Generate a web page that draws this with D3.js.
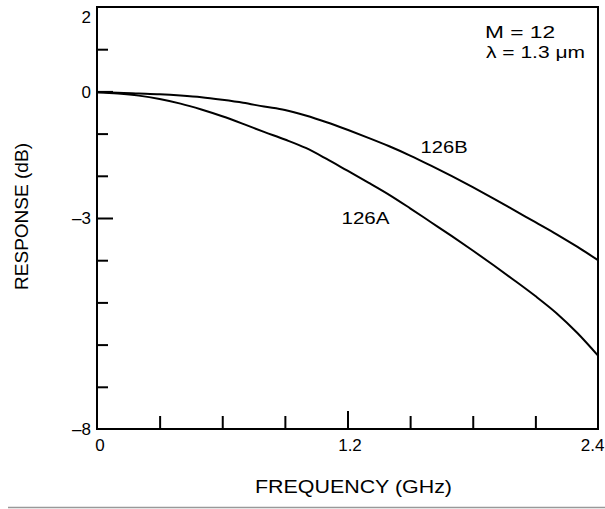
<!DOCTYPE html>
<html>
<head>
<meta charset="utf-8">
<script src="https://cdn.jsdelivr.net/npm/d3@7"></script>
<style>
  html, body { margin: 0; padding: 0; background: #fff; }
  svg { display: block; }
  text { font-family: "Liberation Sans", "DejaVu Sans", sans-serif; fill: #000; }
  .tick text { font-size: 17px; }
</style>
</head>
<body>
<svg id="chart" width="605" height="509"></svg>
<script>
// ---- data ----
const frequencies = [0, 0.1, 0.2, 0.3, 0.4, 0.5, 0.6, 0.7, 0.8, 0.9, 1.0, 1.1, 1.2,
                     1.3, 1.4, 1.5, 1.6, 1.7, 1.8, 1.9, 2.0, 2.1, 2.2, 2.3, 2.4];
const response126B = [-0.02, -0.03, -0.05, -0.07, -0.10, -0.14, -0.20, -0.27, -0.36, -0.44, -0.57, -0.73, -0.91,
                      -1.10, -1.30, -1.52, -1.76, -2.01, -2.27, -2.54, -2.82, -3.10, -3.38, -3.68, -4.00];
const response126A = [-0.02, -0.05, -0.10, -0.18, -0.29, -0.43, -0.59, -0.77, -0.96, -1.14, -1.34, -1.60, -1.88,
                      -2.16, -2.45, -2.77, -3.10, -3.43, -3.77, -4.12, -4.48, -4.85, -5.25, -5.72, -6.26];
const seriesNames = ["126A", "126B"];
const yTickLabels = [2, 0, -3, -8];
const yMinorTicks = [1, -1, -2, -4, -5, -6, -7];
const xTickLabels = [0, 1.2, 2.4];
const xMinorTicks = [0.3, 0.6, 0.9, 1.5, 1.8, 2.1];
const annotations = ["M = 12", "\u03BB = 1.3 \u03BCm"];
const xTitle = "FREQUENCY (GHz)";
const yTitle = "RESPONSE (dB)";

// ---- layout ----
const svg = d3.select("#chart");
const x = d3.scaleLinear().domain([0, 2.4]).range([97, 598]);
const y = d3.scaleLinear().domain([-8, 2]).range([429, 7]);

// frame
svg.append("rect")
  .attr("x", x(0)).attr("y", y(2))
  .attr("width", x(2.4) - x(0)).attr("height", y(-8) - y(2))
  .attr("fill", "none").attr("stroke", "#000").attr("stroke-width", 2);

// y axis: minor ticks
const yMinor = svg.append("g").attr("transform", `translate(${x(0)},0)`)
  .call(d3.axisLeft(y).tickValues(yMinorTicks).tickSizeInner(-11).tickSizeOuter(0).tickFormat(""));
// y axis: labelled ticks
const yMajor = svg.append("g").attr("transform", `translate(${x(0)},0)`)
  .call(d3.axisLeft(y).tickValues(yTickLabels).tickSizeInner(-16).tickSizeOuter(0).tickPadding(6)
        .tickFormat(d => d < 0 ? "\u2013" + Math.abs(d) : String(d)));
[yMinor, yMajor].forEach(g => {
  g.select(".domain").remove();
  g.attr("font-size", null).attr("font-family", null);
  g.selectAll(".tick line").attr("stroke", "#000").attr("stroke-width", 2);
});
yMajor.selectAll(".tick line").attr("x2", d => (d === -3 || d === 0) ? 16 : 0);
yMajor.selectAll(".tick text")
  .attr("dy", d => d === 2 ? "0.9em" : "0.33em");

// x axis: minor ticks
const xMinor = svg.append("g").attr("transform", `translate(0,${y(-8)})`)
  .call(d3.axisBottom(x).tickValues(xMinorTicks).tickSizeInner(-13).tickSizeOuter(0).tickFormat(""));
// x axis: labelled ticks
const xMajor = svg.append("g").attr("transform", `translate(0,${y(-8)})`)
  .call(d3.axisBottom(x).tickValues(xTickLabels).tickSizeInner(-18).tickSizeOuter(0).tickPadding(10)
        .tickFormat(d => String(d)));
[xMinor, xMajor].forEach(g => {
  g.select(".domain").remove();
  g.attr("font-size", null).attr("font-family", null);
  g.selectAll(".tick line").attr("stroke", "#000").attr("stroke-width", 2);
});
xMajor.selectAll(".tick line").attr("y2", d => d === 1.2 ? -18 : 0);
xMajor.selectAll(".tick text")
  .attr("text-anchor", d => d === 2.4 ? "end" : "middle")
  .attr("x", d => d === 2.4 ? 6 : (d === 0 ? 2.5 : 2));

// curves
const line = d3.line().x(d => x(d[0])).y(d => y(d[1])).curve(d3.curveMonotoneX);
const seriesData = [response126A, response126B];
seriesData.forEach(vals => {
  svg.append("path")
    .datum(frequencies.map((f, i) => [f, vals[i]]))
    .attr("fill", "none").attr("stroke", "#000").attr("stroke-width", 2)
    .attr("d", line);
});

// curve labels
svg.append("text").attr("x", x(1.2) - 6).attr("y", y(-3.15)).attr("font-size", 17)
  .attr("textLength", 48).attr("lengthAdjust", "spacingAndGlyphs").text(seriesNames[0]);
svg.append("text").attr("x", x(1.55)).attr("y", y(-1.45)).attr("font-size", 17)
  .attr("textLength", 47).attr("lengthAdjust", "spacingAndGlyphs").text(seriesNames[1]);

// annotations
svg.append("text").attr("x", 485).attr("y", 38).attr("font-size", 16)
  .attr("textLength", 70).attr("lengthAdjust", "spacingAndGlyphs").text(annotations[0]);
svg.append("text").attr("x", 486).attr("y", 58).attr("font-size", 16)
  .attr("textLength", 99).attr("lengthAdjust", "spacingAndGlyphs").text(annotations[1]);

// axis titles
svg.append("text").attr("x", 353.5).attr("y", 493).attr("font-size", 18)
  .attr("text-anchor", "middle")
  .attr("textLength", 197).attr("lengthAdjust", "spacingAndGlyphs").text(xTitle);
svg.append("text").attr("transform", "translate(28,216.5) rotate(-90)").attr("font-size", 18)
  .attr("text-anchor", "middle")
  .attr("textLength", 147).attr("lengthAdjust", "spacingAndGlyphs").text(yTitle);

// bottom rule
svg.append("line").attr("x1", 8).attr("x2", 605).attr("y1", 507.5).attr("y2", 507.5)
  .attr("stroke", "#999").attr("stroke-width", 1.5);
</script>
</body>
</html>
